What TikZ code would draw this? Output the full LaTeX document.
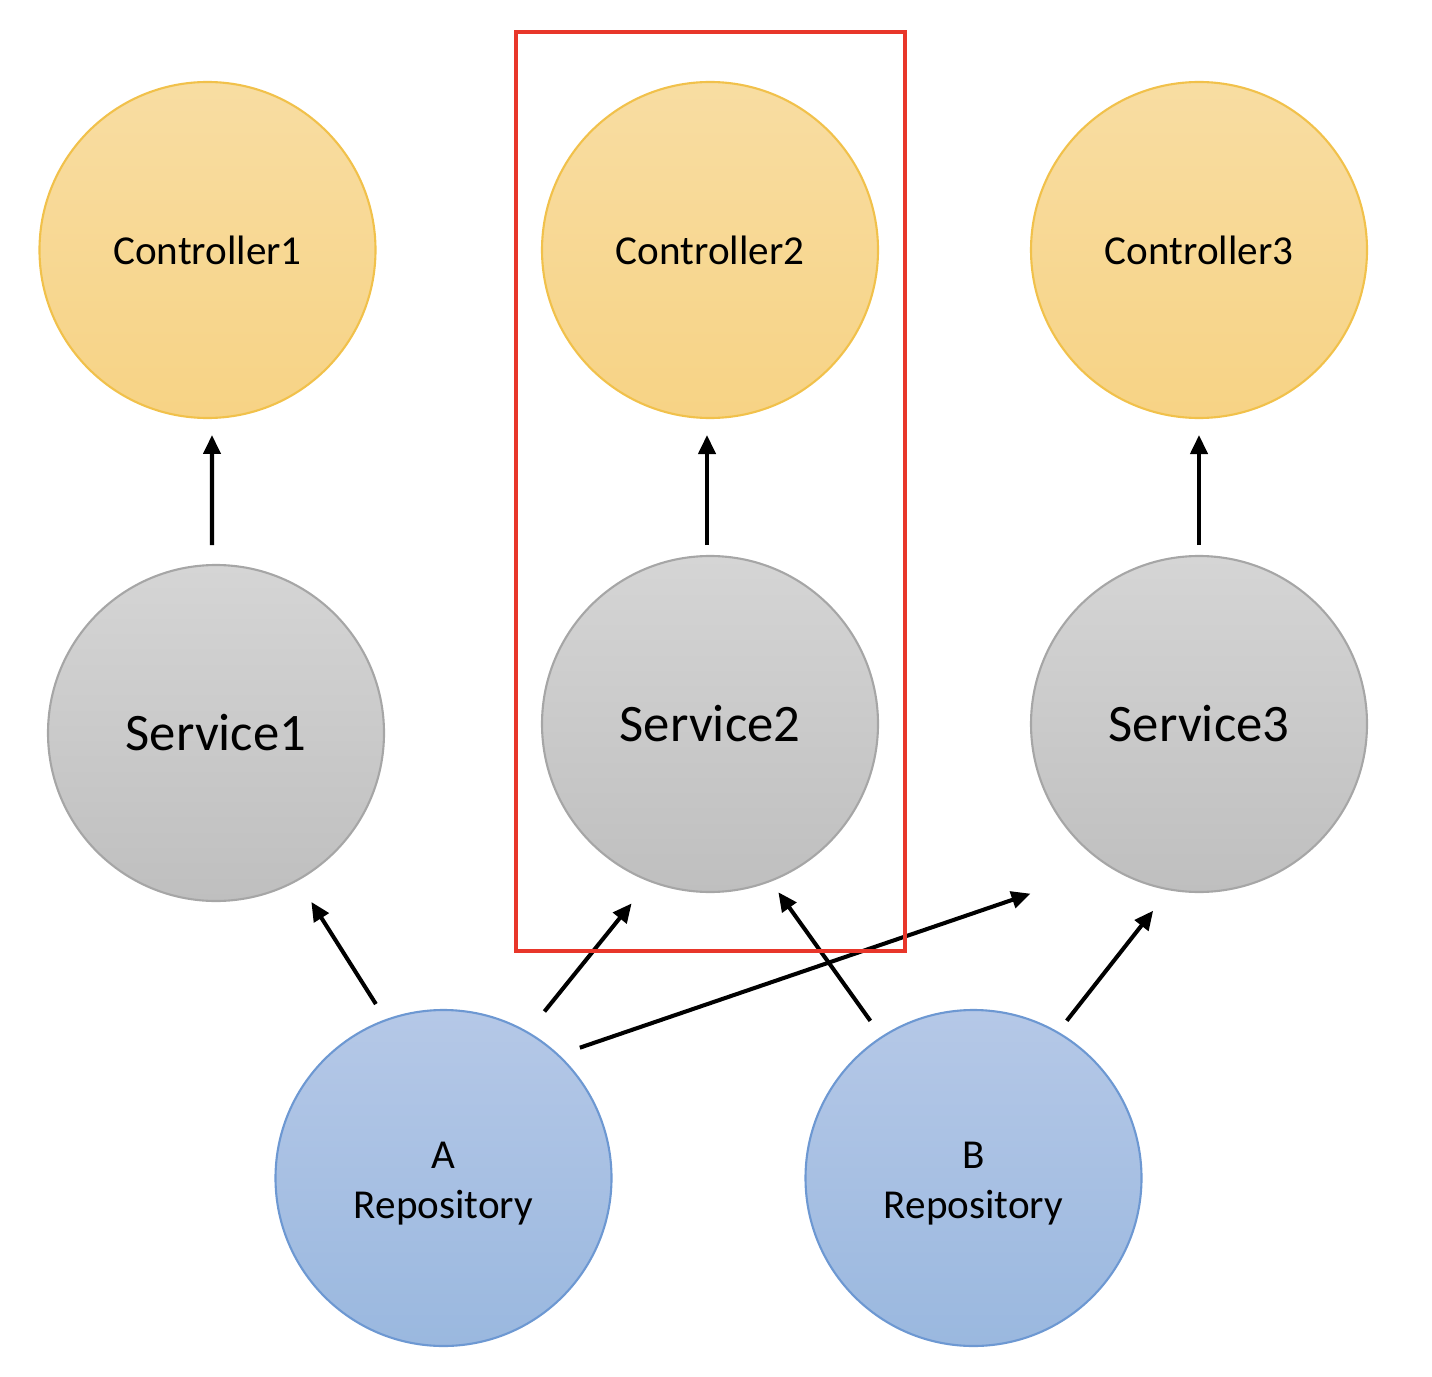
\documentclass[tikz,border=0pt]{standalone}
\usepackage{fontspec}
\setmainfont{Carlito}
\usetikzlibrary{arrows.meta, positioning}
\definecolor{CtrlTop}{HTML}{F8DDA2}
\definecolor{CtrlBot}{HTML}{F7D385}
\definecolor{CtrlLine}{HTML}{F1C14B}
\definecolor{SvcTop}{HTML}{D5D5D5}
\definecolor{SvcBot}{HTML}{BFBFBF}
\definecolor{SvcLine}{HTML}{A6A6A6}
\definecolor{RepoTop}{HTML}{B5C8E7}
\definecolor{RepoBot}{HTML}{9AB8DF}
\definecolor{RepoLine}{HTML}{6D98D2}
\definecolor{FrameRed}{HTML}{E8362A}

\begin{document}
\begin{tikzpicture}[
    layer/.style={circle, minimum size=3.36cm, inner sep=0pt, outer sep=0pt, line width=0.6pt, align=center},
    ctrl/.style={layer, draw=CtrlLine, top color=CtrlTop, bottom color=CtrlBot, font=\fontsize{11.7}{14}\selectfont},
    svc/.style={layer, draw=SvcLine, top color=SvcTop, bottom color=SvcBot, font=\fontsize{15}{18}\selectfont},
    repo/.style={layer, draw=RepoLine, top color=RepoTop, bottom color=RepoBot, font=\fontsize{11.7}{14.3}\selectfont},
    deparr/.style={-{Triangle[length=1.9mm, width=1.7mm]}, line width=1.15pt, black},
    frame/.style={draw=FrameRed, line width=1.1pt}
]
\useasboundingbox (0,0) rectangle (14.32,13.76);

% Top row: controllers
\node[ctrl] (c1) at (2.075, 11.26) {Controller1};
\node[ctrl] (c2) at (7.10, 11.26) {Controller2};
\node[ctrl] (c3) at (11.99, 11.26) {Controller3};
% Middle row: services
\node[svc] (s1) at (2.16, 6.43) {Service1};
\node[svc] (s2) at (7.10, 6.52) {Service2};
\node[svc] (s3) at (11.99, 6.52) {Service3};
% Bottom row: repositories
\node[repo] (ra) at (4.435, 1.98) {\rule{0pt}{0.37cm}A\\Repository};
\node[repo] (rb) at (9.735, 1.98) {\rule{0pt}{0.37cm}B\\Repository};

% Service -> Controller
\draw[deparr, shorten <=0.2cm, shorten >=0.17cm] ([xshift=-0.04cm]s1.north) -- ([xshift=0.045cm]c1.south);
\draw[deparr, shorten <=0.11cm, shorten >=0.17cm] ([xshift=-0.03cm]s2.north) -- ([xshift=-0.03cm]c2.south);
\draw[deparr, shorten <=0.11cm, shorten >=0.17cm] (s3.north) -- (c3.south);

% Repository -> Service
\draw[deparr, shorten <=0.19cm, shorten >=0.26cm] (ra.110.6) -- (s1.-61.9);
\draw[deparr, shorten <=0.27cm, shorten >=0.29cm] (ra.60.9) -- (s2.-111.4);
\draw[deparr, shorten <=0.23cm, shorten >=0.84cm] (ra.47.8) -- (s3.-122.2);
\draw[deparr, shorten <=0.2cm, shorten >=0.14cm] (rb.123.5) -- (s2.-69.6);
\draw[deparr, shorten <=0.15cm, shorten >=0.27cm] (rb.60.8) -- (s3.-100.8);

% Highlight frame
\draw[frame] (5.16,13.44) rectangle (9.05,4.25);
\end{tikzpicture}
\end{document}
